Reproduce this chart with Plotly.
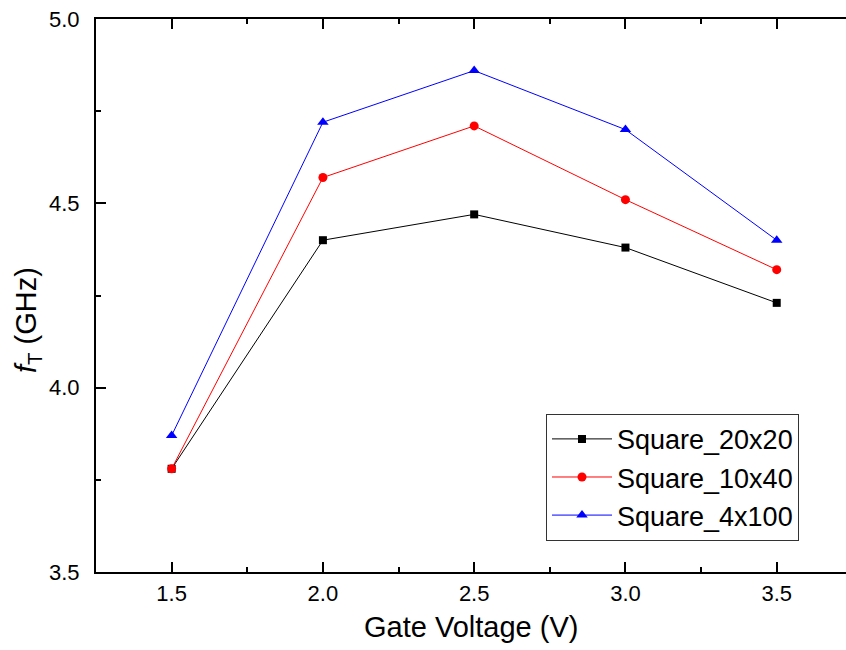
import plotly.graph_objects as go

# Gate voltage sweep (V)
gate_voltage = [1.5, 2.0, 2.5, 3.0, 3.5]

# Cutoff frequency fT (GHz) for each device geometry
ft_square_20x20 = [3.78, 4.40, 4.47, 4.38, 4.23]
ft_square_10x40 = [3.78, 4.57, 4.71, 4.51, 4.32]
ft_square_4x100 = [3.87, 4.72, 4.86, 4.70, 4.40]

series_names = ["Square_20x20", "Square_10x40", "Square_4x100"]
series_values = [ft_square_20x20, ft_square_10x40, ft_square_4x100]
series_colors = ["#000000", "#ff0000", "#0000ff"]
series_symbols = ["square", "circle", "triangle-up"]
series_sizes = [8, 9, 10]

FONT = "Liberation Sans, Arial, sans-serif"

fig = go.Figure()
for name, vals, color, sym, size in zip(series_names, series_values,
                                        series_colors, series_symbols, series_sizes):
    fig.add_trace(go.Scatter(
        x=gate_voltage, y=vals, name=name, mode="lines+markers",
        line=dict(color=color, width=1),
        marker=dict(symbol=sym, size=size, color=color, line=dict(width=0)),
    ))

axis_common = dict(
    showgrid=False, zeroline=False,
    showline=True, linecolor="black", linewidth=2,
    ticks="inside", ticklen=10, tickwidth=2, tickcolor="black",
    tickfont=dict(family=FONT, size=22, color="black"),
    tickformat=".1f", dtick=0.5,
    minor=dict(ticks="inside", ticklen=5, tickwidth=2, tickcolor="black",
               dtick=0.25, showgrid=False),
)

fig.update_xaxes(range=[1.25, 3.729], tick0=1.5, mirror="ticks",
                 ticklabelstandoff=1, **axis_common)
fig.update_yaxes(range=[3.5, 5.0], tick0=3.5, mirror=False,
                 ticklabelstandoff=10, **axis_common)

fig.add_annotation(
    text="Gate Voltage (V)", xref="paper", yref="paper",
    x=0.5, y=-0.0995, xanchor="center", yanchor="middle", showarrow=False,
    font=dict(family=FONT, size=29, color="black"),
)
fig.add_annotation(
    text="<i>f</i><sub>T</sub> (GHz)", xref="paper", yref="paper",
    x=-0.0907, y=0.4557, xanchor="center", yanchor="middle", showarrow=False,
    textangle=-90, font=dict(family=FONT, size=29, color="black"),
)

fig.update_layout(
    width=846, height=650,
    margin=dict(l=96, r=0, t=19, b=78),
    paper_bgcolor="white", plot_bgcolor="white",
    showlegend=True,
    legend=dict(
        x=0.6, y=0.286, xanchor="left", yanchor="top",
        bgcolor="white", bordercolor="#333333", borderwidth=1,
        font=dict(family=FONT, size=27, color="black"),
        tracegroupgap=0, itemwidth=60,
    ),
)

fig.write_html("out.html")
